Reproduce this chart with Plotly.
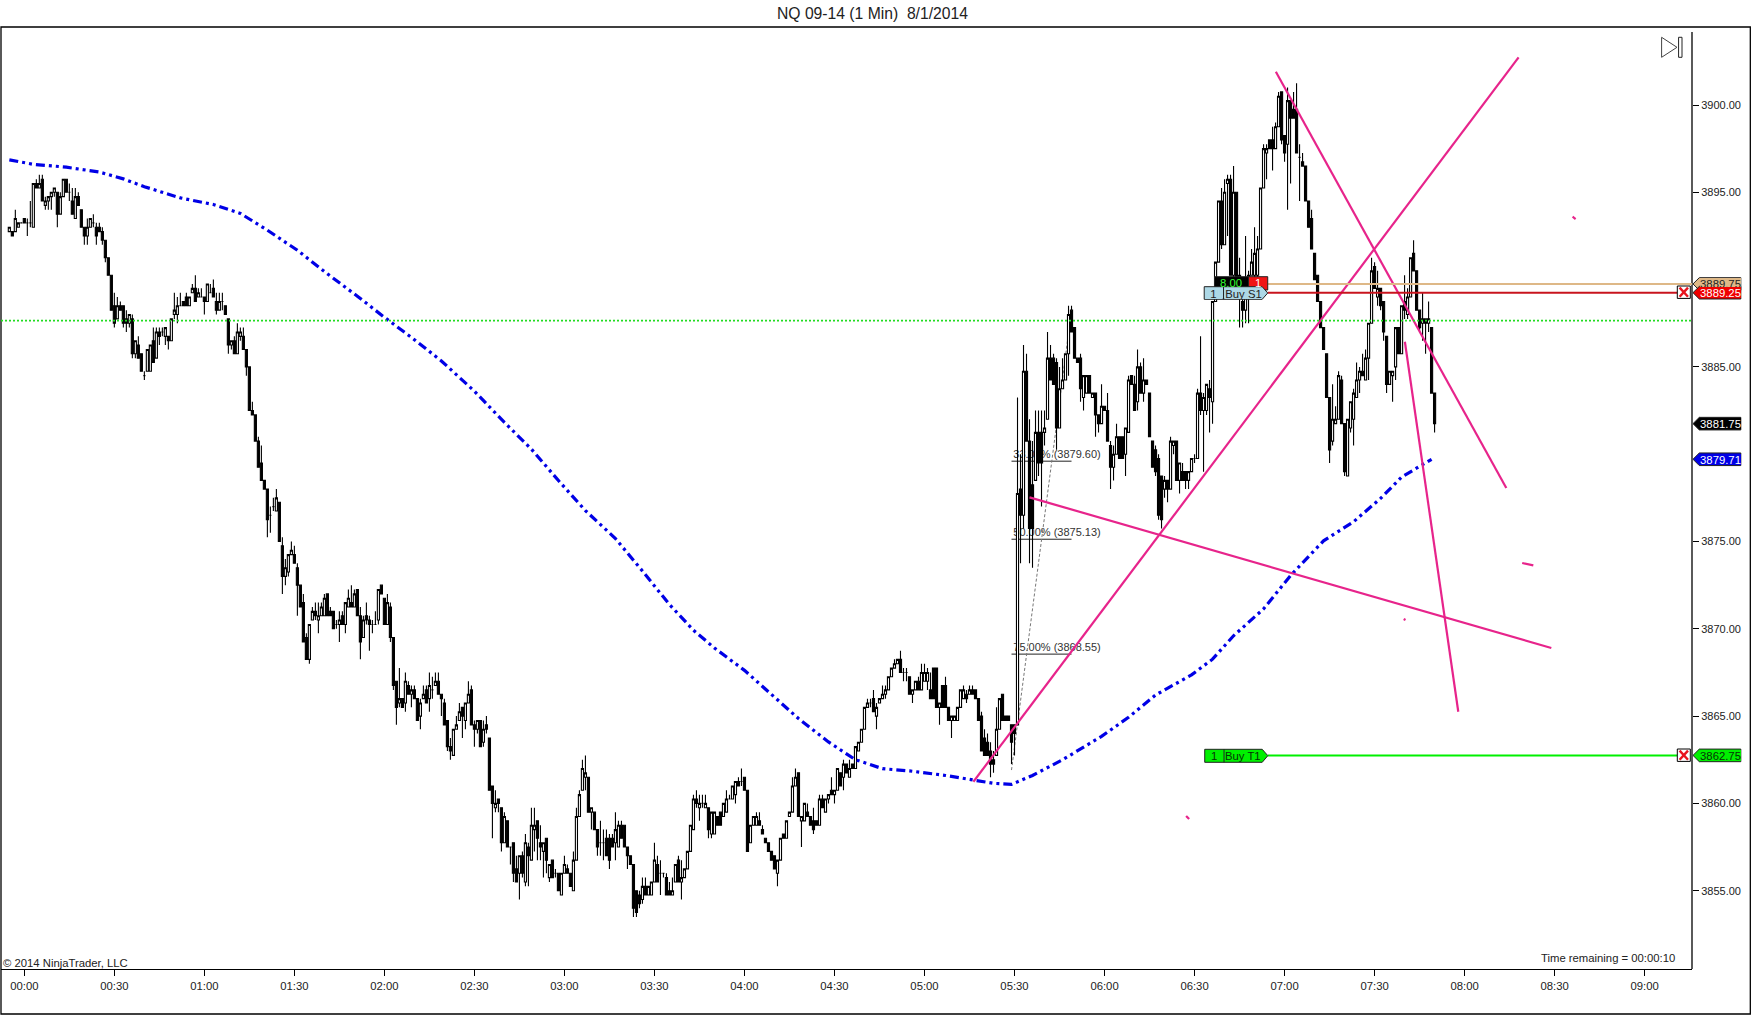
import pandas as pd
import plotly.graph_objects as go

title = "NQ 09-14 (1 Min)  8/1/2014"
first_bar = "2014-07-31 23:55"
base_price = 3800

# one minute bars, points above base_price
opens = [
    92.75, 92.75, 92.75, 93, 93.25, 93.5, 93.25, 93.25, 93, 95.5,
    95.25, 95.75, 94.25, 94.5, 94.75, 95, 95, 93.75, 94.75, 95.75,
    95, 94.5, 93.5, 94.75, 94, 93, 92.5, 93, 93.25, 93,
    93, 92.75, 92.25, 91.25, 90.25, 88.5, 87.75, 88.5, 88.5, 87.75,
    87.5, 87.75, 85.75, 86.25, 85.75, 84.5, 84.75, 84.75, 86.5, 85.5,
    87, 87, 86.75, 86.75, 86.5, 88, 88, 88.5, 88.75, 89,
    88.5, 89.25, 89.5, 89, 89, 89, 88.75, 89.25, 89.5, 88.75,
    88.25, 88.75, 88.5, 87.75, 86.25, 86.5, 85.75, 86.75, 86.75, 86,
    85, 82.5, 82.25, 80.75, 79.5, 78.5, 78, 76.5, 77, 76.75,
    77.25, 74.75, 73, 73.25, 74.25, 74.25, 73.5, 72.5, 71.5, 69.5,
    68.25, 70.5, 71, 70.5, 70.75, 70.75, 72, 71, 71, 70.25,
    70.25, 70.75, 70.25, 71.25, 71.5, 71.25, 72.25, 70.75, 69.5, 70.75,
    70.5, 70.25, 70.25, 70.5, 72.5, 71.75, 70.25, 71.25, 69.5, 67,
    65.75, 66, 65.75, 66.75, 66.25, 66.5, 66, 65, 66, 66.5,
    66, 66.5, 66.75, 67, 66.25, 65.75, 64.75, 63.25, 62.75, 64.25,
    64.75, 65.5, 64.75, 65.75, 66.5, 64.5, 64.25, 64.75, 63.5, 64.5,
    63.75, 61, 59.75, 60.25, 59.75, 57.75, 59, 57.5, 57.75, 56.25,
    56, 57, 55.5, 57.5, 56.75, 58.5, 59, 57.75, 57.25, 58,
    55.75, 56.75, 56, 56, 54.75, 56, 56.25, 56, 55, 56.75,
    59.25, 60.75, 61.5, 61.5, 59.5, 59.5, 58.5, 57.75, 57.75, 58,
    58, 58, 57.75, 57.5, 58.75, 58.75, 57.5, 57, 56.5, 55,
    54.75, 54.5, 55.25, 54.75, 54.75, 55.5, 56.5, 56, 56, 55.75,
    55, 54.75, 55.5, 56.75, 55.5, 55.75, 56.25, 57.25, 58.5, 60.25,
    59.75, 60, 59.75, 59.75, 58.25, 58.25, 59.25, 59.5, 59.25, 59.5,
    60.25, 60.25, 60.5, 61.25, 61.25, 61.5, 60.75, 57.75, 58.75, 58.75,
    59, 58.5, 58, 57.75, 57.25, 57, 56, 56.75, 58.25, 58,
    59.25, 59.5, 61, 61.75, 59, 59, 59.5, 59.25, 59, 59,
    58.75, 60.25, 59.5, 60.25, 60.75, 60.5, 60.75, 61.75, 61.5, 62.25,
    61.5, 62.25, 62, 63, 63.5, 64.25, 65.5, 65.75, 66, 65,
    65.75, 66, 66.25, 66.5, 67.25, 67.75, 68, 68.25, 67.5, 67.5,
    67.25, 66.25, 66.5, 67, 66.5, 67, 67, 66.5, 67.75, 67.75,
    65.5, 66.75, 66.75, 65.5, 64.75, 64.75, 64.75, 65.5, 66, 66.25,
    66.25, 66.5, 66.5, 66, 65, 63.75, 63.5, 63, 62.5, 62.75,
    64.25, 66.25, 65, 65, 64.5, 64.5, 64.5, 78, 76.5, 84.75,
    80.75, 78.25, 78.5, 81.25, 81.25, 81.25, 82, 85.5, 85.5, 85.25,
    81.5, 83.75, 84.25, 85.75, 88.25, 87.25, 85.5, 85.5, 83.25, 83.5,
    84.5, 83.25, 83.5, 82.25, 81.75, 82.75, 82.5, 80.5, 79.25, 80,
    81, 81, 80, 81.25, 84.5, 84, 83, 85, 83.5, 84.25,
    83.5, 80.75, 80.25, 79.75, 78.75, 78, 78.5, 78, 80.5, 80.75,
    78.5, 79, 79, 78.5, 79, 79.75, 79.75, 83.5, 82.5, 82.5,
    83.75, 83, 88.75, 91, 94.5, 92, 95.5, 95.75, 90.25, 95,
    90, 88.75, 88.25, 89.25, 90.25, 90.25, 90.25, 91.75, 95.25, 97.25,
    98, 98, 97.5, 98.75, 100.75, 98.25, 97.75, 100.25, 99.75, 99.75,
    97, 96.75, 96.5, 94.5, 93.5, 91.5, 90.25, 88.75, 87.25, 85.75,
    83.25, 80.75, 81.75, 82, 84.25, 81.75, 78.75, 81.5, 82, 83.25,
    84.25, 84.75, 84.25, 85.5, 87.5, 90.75, 89, 89.5, 88.75, 86.75,
    84, 84.5, 85, 87.25, 85.75, 88.75, 88, 89, 91.5, 90.5,
    88.25, 87.5, 87.75, 87.5, 87.25, 83.5,
]
highs = [
    93, 92.75, 94, 93.25, 93.25, 93.5, 93.5, 94.5, 95.5, 95.75,
    96, 96, 94.75, 94.75, 95, 95.25, 95, 95, 95.75, 95.75,
    95.5, 95.25, 95.25, 95, 94, 93, 93.5, 93.5, 93.75, 93.25,
    93.25, 93, 92.25, 91.25, 90.25, 89.25, 89, 88.75, 88.5, 88.25,
    88, 88, 86.5, 86.75, 85.75, 84.75, 86, 86.25, 87.25, 87.25,
    87.25, 87.25, 87.25, 86.75, 87.75, 89.25, 89, 89.25, 88.75, 89.25,
    89, 89.75, 90.25, 89.5, 89.5, 89, 89.75, 89.75, 90, 89.25,
    89.25, 89.25, 88.5, 87.75, 86.5, 86.75, 87.5, 87.25, 87.25, 86,
    85, 83, 82.25, 81, 80.5, 78.5, 78, 77, 77.5, 78,
    77.25, 75.25, 74, 74.25, 75, 74.75, 73.75, 72.5, 72, 69.75,
    70.25, 71.25, 71.5, 71.5, 71.5, 72, 72, 71.25, 71, 70.5,
    71, 71, 71.5, 72.25, 72.5, 72.25, 72.25, 71.25, 70.75, 71.5,
    70.75, 70.5, 71, 72.25, 72.5, 71.75, 72, 71.5, 69.5, 67,
    67.75, 66, 67.5, 67, 66.75, 66.75, 66, 66, 66.75, 66.75,
    67.5, 67.25, 67.5, 67.5, 66.25, 66, 64.75, 63.75, 64.25, 65,
    65.75, 65.5, 65.75, 67, 66.75, 64.75, 64.75, 64.75, 64.75, 65,
    63.75, 61, 60.75, 60.25, 59.75, 59.5, 59, 57.5, 57.75, 57,
    57, 57.25, 58.25, 57.75, 59.75, 59.75, 59, 58.75, 57.75, 58,
    56.5, 56.75, 56.25, 56, 56, 57, 56.5, 56, 57.25, 59.75,
    60.75, 62.5, 62.75, 61.5, 59.75, 59.5, 58.5, 59, 58.5, 58.5,
    58.25, 58.25, 59.5, 59, 59, 58.75, 57.5, 57, 56.5, 55,
    55, 55.75, 55.75, 55.25, 55.5, 57.75, 57, 56.75, 56, 56,
    55.5, 55.75, 56.5, 57, 56.75, 56.25, 57.25, 58.75, 60.5, 60.75,
    60.5, 60.5, 60.5, 59.75, 59.5, 59.5, 59.25, 59.5, 60, 60.75,
    60.5, 61, 61.25, 61.5, 62, 61.5, 60.75, 58.75, 59.25, 59.5,
    59.5, 58.75, 58, 57.75, 57.25, 57, 56.75, 58, 58.25, 59,
    59.5, 61.5, 62, 61.75, 59.25, 60, 60, 59.25, 59.75, 59,
    60.5, 60.5, 60.25, 60.5, 61.5, 60.75, 62, 61.75, 62.5, 62.25,
    62.5, 62.25, 63.25, 63.5, 64.25, 65.5, 66, 66, 66.5, 65.75,
    66, 66.75, 66.75, 67.25, 67.75, 68.25, 68.25, 68.75, 67.75, 67.75,
    67.25, 66.5, 67, 67.25, 68, 68, 67.75, 67.5, 67.75, 67.75,
    65.75, 66.75, 67.25, 65.5, 65, 65, 65.5, 66.5, 66.75, 66.5,
    66.75, 66.75, 66.5, 66, 65.25, 64.25, 64, 63.5, 63, 65.5,
    66, 66.25, 65, 65, 64.5, 64.5, 83.25, 80, 86.25, 85.75,
    82, 80.75, 82.5, 82.5, 82.5, 82.5, 87, 86.25, 85.75, 85.5,
    85, 85.5, 85.75, 88.5, 88.5, 87.25, 85.5, 85.75, 84.5, 84.5,
    84.5, 83.5, 83.5, 82.25, 84, 82.75, 83.5, 80.75, 80.5, 81.75,
    81, 81, 81.5, 84.5, 84.5, 84.5, 86, 85.25, 85.5, 84.25,
    83.5, 80.75, 80.5, 80, 78.75, 78.75, 78.5, 81, 80.75, 80.75,
    79.5, 79.5, 79, 79, 79.75, 80, 83.75, 86.75, 83.5, 84,
    84.25, 88.75, 91, 94.5, 95.25, 95.75, 96, 96, 96.5, 95,
    91.25, 89.5, 92.5, 90.5, 91.75, 93, 92.5, 95.25, 97.75, 97.75,
    98, 98.75, 99, 100.75, 100.75, 98.25, 101, 100.25, 100.75, 101.25,
    97.75, 97.25, 96.5, 94.5, 94, 91.5, 90.25, 88.75, 87.25, 85.75,
    83.25, 84, 82.75, 84.75, 84.5, 81.75, 82, 83, 83.75, 85.25,
    85, 85.75, 86, 87.5, 91.25, 91, 90.5, 89.5, 88.75, 86.75,
    84.75, 84.75, 87.25, 87.25, 88.5, 90.25, 89.5, 91.25, 92.25, 90.5,
    88.25, 89.25, 87.75, 88.75, 87.25, 83.5,
]
lows = [
    92.75, 92.5, 92.75, 93, 93.25, 93.25, 92.5, 93, 93, 95.25,
    95.25, 94.5, 94, 94, 94, 94.75, 93, 93.75, 94.75, 95,
    94.5, 93.75, 93.5, 94.25, 93, 92, 92, 93, 93, 92,
    92.75, 92, 91, 90.25, 88.25, 87.25, 87.75, 88.25, 87.25, 87,
    87.25, 85.5, 85.5, 85.5, 84.75, 84.25, 84.75, 84.75, 85.25, 85.5,
    86.25, 86.75, 86.25, 86, 86.5, 87.75, 87.5, 88.5, 88.5, 88.5,
    88.5, 89.25, 88.75, 89, 89, 88, 88.75, 89.25, 89, 88,
    88.25, 88.25, 88, 85.75, 86, 85.75, 85.75, 86.5, 86, 84.5,
    82.5, 82.25, 80.75, 79.25, 78.5, 78, 75.25, 75.5, 76.75, 76.75,
    75, 72, 72.5, 73, 74.25, 73.75, 70.75, 71.25, 69.25, 68.25,
    68, 70.5, 70.5, 69.75, 70.75, 70.75, 70.75, 70.75, 70, 70,
    69.25, 70.25, 69.75, 71.25, 71.25, 71.25, 70.75, 68.25, 69.5, 70.25,
    68.75, 69.75, 70.25, 70.25, 72, 70.25, 70.25, 69.25, 66.5, 64.5,
    65.5, 65.5, 65.25, 66.25, 65.5, 66, 64.75, 64.25, 66, 65.75,
    65.25, 66, 66.75, 66.25, 65, 64.5, 63, 62.5, 62.75, 64.25,
    64.75, 63.75, 64.25, 65.75, 64.5, 63.25, 64, 63.25, 63.25, 64,
    60.75, 58, 59.5, 59.5, 57.25, 57.75, 57.5, 56.5, 55.5, 55.5,
    54.5, 55.75, 55.25, 55.25, 56.75, 57.25, 56.75, 56.75, 55.75, 56,
    55.5, 55.75, 55.75, 55, 54.75, 56, 56, 55.25, 55, 56.75,
    59.25, 60.75, 60.75, 59.5, 58.5, 58.5, 57, 57, 56.75, 57,
    56.25, 57.5, 56.75, 57.5, 58, 57.5, 56.25, 56.5, 53.5, 53.5,
    54, 54.25, 54.75, 54.75, 54.75, 55.5, 55.5, 54.75, 55.75, 54.75,
    54.75, 54.75, 55.5, 55.5, 54.5, 55.75, 56.25, 57.25, 58.5, 59.75,
    59, 59.75, 59.75, 58, 58, 58.25, 58.75, 58.75, 59.25, 59.5,
    60.25, 60.25, 60, 61, 61, 60.75, 57.25, 57.75, 58.75, 58.75,
    58.75, 58.25, 57.75, 57.25, 56.75, 56.25, 55.25, 56.75, 58, 58,
    59.25, 59.5, 61, 59.25, 57.5, 59, 59.25, 58.75, 58.25, 58.75,
    58.75, 59.75, 59.5, 60, 60.5, 60, 60.75, 61, 60.75, 61.75,
    61.5, 62, 62, 63, 63.5, 64.25, 65.5, 65.5, 65.25, 64.25,
    65.75, 66, 66, 66.5, 67.25, 67.75, 68, 67.5, 67, 67,
    66.25, 65.75, 66.5, 66.5, 66.5, 67, 66.5, 66, 66, 65.5,
    64.5, 65.5, 65.5, 64.75, 63.75, 64.75, 64.75, 65.5, 66, 65.75,
    66.25, 66.25, 66, 64.75, 63, 62.75, 62.75, 61.5, 61.75, 62.75,
    64.25, 64.75, 64.75, 64.75, 62.25, 62.75, 64.5, 73.75, 75.75, 80.75,
    73.75, 73.5, 78.5, 78.75, 77, 80.5, 82, 84.25, 84, 80.25,
    81.5, 83.75, 84.25, 84.5, 87, 85.5, 85.25, 83, 82.5, 83.5,
    83.5, 83.25, 81, 81.25, 81.75, 82.5, 80.75, 78, 78.5, 80,
    79.75, 79.75, 78.75, 81.25, 84, 82.5, 82.5, 83.5, 83, 84,
    81, 79.25, 78.75, 76.25, 75.75, 77.5, 77.25, 78, 80, 78.5,
    77.75, 78.5, 78, 78, 79, 79.5, 79.75, 82.25, 79, 82.25,
    81.25, 81.75, 88.75, 91, 91.75, 92, 92.5, 90.25, 90, 89,
    87.25, 87.25, 87.5, 87.5, 90.25, 90, 90, 91.75, 95.25, 95.75,
    97.5, 96.25, 97.5, 98.75, 97.75, 96.75, 94, 95.5, 99.25, 97.25,
    94.5, 96.5, 94.5, 93, 91.75, 90, 88.75, 87.25, 86, 83.25,
    79.5, 80.5, 81.75, 82, 81.75, 78.75, 78.75, 81.25, 80.5, 83.25,
    83.5, 84.5, 84.25, 84.25, 87.5, 89.5, 88.5, 88.25, 86.5, 83.5,
    84, 83, 84.25, 85.75, 85.75, 87.75, 87.75, 89, 90.5, 88.25,
    87, 86.5, 85.75, 87, 83.5, 81.25,
]
closes = [
    93, 92.5, 93.5, 93.25, 93.25, 93.25, 93.25, 93.25, 95.5, 95.25,
    95.5, 94.5, 94.5, 94.75, 95, 95.25, 93.75, 94.75, 95.75, 95,
    95, 93.75, 94.75, 94.25, 93, 92.5, 93, 93.5, 93.25, 92.5,
    92.75, 92.25, 91.25, 90.25, 88.25, 87.5, 88.5, 88.25, 87.5, 87.5,
    88, 85.75, 86.5, 85.5, 84.75, 84.5, 86, 86.25, 85.25, 87,
    86.75, 87, 87.25, 86.5, 87.75, 88.25, 88.5, 88.5, 88.5, 88.5,
    89, 89.5, 88.75, 89.25, 89, 88.75, 89.75, 89.25, 89, 88.25,
    88.75, 88.75, 88, 86.25, 86.5, 85.75, 87, 87, 86, 85,
    82.5, 82.25, 80.75, 79.25, 78.5, 78, 76.25, 76.5, 77, 77.5,
    75, 73, 73.5, 74.25, 74.5, 73.75, 72.5, 71.25, 69.25, 68.25,
    70.25, 71, 70.75, 70.75, 71.25, 71.75, 70.75, 70.75, 70, 70.25,
    70.5, 70.25, 71.5, 71.75, 71.25, 72, 70.75, 69.25, 70.5, 70.5,
    70.25, 70.25, 70.25, 72.25, 72, 70.25, 71.5, 69.5, 66.75, 65.5,
    66, 65.5, 67, 66.25, 66.5, 66, 64.75, 65.75, 66.25, 65.75,
    66.75, 66.5, 67, 66.25, 66, 64.5, 63.25, 63, 64.25, 64.5,
    65.25, 65, 65.75, 66.25, 64.5, 64.25, 64.75, 63.25, 64.25, 64.25,
    60.75, 60, 60, 60, 57.75, 59.25, 57.5, 57.5, 56, 55.5,
    57, 56, 57.75, 57, 58.75, 58.75, 58, 57.5, 57.75, 56.75,
    56.5, 55.75, 56, 55, 56, 56.5, 56, 55.25, 56.75, 59.25,
    60.5, 62, 61.75, 59.5, 59.75, 58.5, 57.5, 57.75, 57.75, 57,
    56.75, 57.5, 58.5, 58.75, 58, 57.5, 57, 56.5, 54, 53.75,
    54.25, 55.25, 54.75, 55.25, 55.5, 56.75, 55.5, 56, 56, 54.75,
    54.75, 55, 56.5, 55.5, 55.75, 56.25, 57.25, 58.75, 60.25, 60,
    60, 60, 60, 58.5, 59.5, 59.5, 58.75, 58.75, 60, 60.25,
    60.25, 61, 61.25, 61, 61.25, 60.75, 57.25, 58.75, 59.25, 59.25,
    58.75, 58.25, 57.75, 57.25, 56.75, 56.25, 56.75, 58, 58, 59,
    59.5, 61, 61.5, 59.25, 59.25, 60, 59.25, 58.75, 58.5, 58.75,
    60.25, 59.75, 60.25, 60.5, 60.5, 60.75, 62, 61, 62.25, 61.75,
    62, 62, 63.25, 63.5, 64.25, 65.5, 65.75, 65.75, 65.25, 65.5,
    66, 66.25, 66.5, 67.25, 67.75, 68, 68.25, 67.5, 67.5, 67.5,
    66.25, 66.5, 67, 66.5, 67.5, 67.5, 67.5, 66, 66, 65.5,
    65.75, 65.5, 65.5, 64.75, 65, 65, 65.5, 66.5, 66.5, 66,
    66.5, 66.25, 66, 64.75, 63, 62.75, 62.75, 62.25, 62.25, 64.25,
    66, 64.75, 64.75, 64.75, 63.5, 64, 77.75, 76.5, 84.75, 80.75,
    75.75, 75.75, 81.25, 79.5, 79.5, 81.5, 85.5, 84.25, 84, 81.5,
    83.75, 84.25, 85.75, 88, 87, 85.5, 85.25, 83.75, 84.5, 84.5,
    83.5, 83.5, 82.25, 81.75, 82.75, 82.5, 80.75, 79.25, 80, 81,
    79.75, 79.75, 81.5, 84.25, 84, 82.5, 85, 83.5, 84.25, 84,
    81, 79.25, 79, 76.5, 76.25, 78.5, 78, 80.75, 80.75, 78.5,
    79.5, 78.5, 78.5, 79, 79.75, 79.75, 83.5, 82.5, 83.25, 84,
    83.25, 88.75, 91, 94.5, 92, 95, 95.75, 90.25, 95, 90,
    90.25, 88.25, 89.25, 90.25, 91, 91.5, 91.75, 95.25, 97.5, 97.5,
    97.5, 97.5, 98.75, 100.5, 98, 97.25, 100.25, 99.25, 99.25, 97.25,
    97, 96.5, 94.5, 93, 91.75, 90, 88.75, 87.25, 86, 83.25,
    80.25, 82, 82, 84.5, 81.75, 79, 82, 83, 83.5, 84.25,
    84.75, 84.5, 85.5, 87.5, 90.5, 89.5, 89.5, 88.5, 87, 84,
    84.75, 84.75, 87.25, 85.75, 88.5, 88.25, 89, 91.25, 90.5, 88.25,
    87.25, 87.75, 87.5, 87.75, 83.5, 81.75,
]

# moving average, minutes after midnight and price
sma_minutes = [-5, 3, 14, 25, 33, 40, 52, 63, 72, 81, 91, 100, 111, 120, 130, 139, 150, 160,
               169, 178, 187, 197, 206, 215, 223, 230, 240, 249, 258, 268, 277, 286, 295,
               307, 316, 323, 329, 336, 346, 359, 368, 377, 389, 396, 403, 413, 422, 433,
               443, 452, 459, 469]
sma_prices = [3896.86, 3896.6, 3896.44, 3896.16, 3895.77, 3895.32, 3894.68, 3894.3, 3893.79,
              3892.83, 3891.68, 3890.46, 3889.05, 3887.84, 3886.56, 3885.34, 3883.61, 3881.82,
              3880.29, 3878.49, 3876.77, 3875.17, 3873.31, 3871.39, 3869.92, 3868.9, 3867.62,
              3866.21, 3864.86, 3863.52, 3862.5, 3861.99, 3861.86, 3861.6, 3861.35, 3861.15,
              3861.09, 3861.6, 3862.5, 3863.84, 3864.93, 3866.21, 3867.36, 3868.26, 3869.6,
              3871.14, 3873.05, 3875.04, 3876.13, 3877.47, 3878.69, 3879.71]

# drawn trend lines: start minute, end minute, start price, end price
trend_start_min = [316.3, 417.1, 335, 460.1, 387.2, 516, 499.2, 459.7]
trend_end_min = [498, 493.9, 508.9, 477.9, 388.2, 517, 502.9, 460.3]
trend_start_px = [3861.24, 3901.9, 3877.53, 3886.44, 3859.28, 3893.6, 3873.77, 3870.56]
trend_end_px = [3902.73, 3878.06, 3868.9, 3865.25, 3859.1, 3893.47, 3873.63, 3870.5]

fib_labels = ["33.00%", "50.00%", "75.00%"]
fib_prices = [3879.60, 3875.13, 3868.55]
fib_trend_min = [329, 349]
fib_trend_px = [3861.91, 3888.26]

ma_level = 3887.65
entry_level = 3889.75
stop_level = 3889.25
target_level = 3862.75
last_price = 3881.75
last_sma = 3879.71
y_ticks = [3855, 3860, 3865, 3870, 3875, 3885, 3895, 3900]

FONT = "Liberation Sans"
PINK = "#E7248B"
PLOT_L, PLOT_R, PLOT_T, PLOT_B = 1, 1691.7, 27, 969


def at_minute(m):
    return pd.Timestamp("2014-08-01") + pd.Timedelta(minutes=m)


def px(x):
    return (x - PLOT_L) / (PLOT_R - PLOT_L)


def py(y):
    return (PLOT_B - y) / (PLOT_B - PLOT_T)


def price_y(price):
    return 105 + (3900 - price) * 17.46


times = pd.date_range(first_bar, periods=len(closes), freq="min")
x_range = [at_minute((PLOT_L - 24.33) / 3), at_minute((PLOT_R - 24.33) / 3)]
y_range = [3900 - (PLOT_B - 105) / 17.46, 3900 - (PLOT_T - 105) / 17.46]

fig = go.Figure()

# fib drawing stays on the base axes so the bars cover it
for label_text, level in zip(fib_labels, fib_prices):
    fig.add_trace(go.Scatter(
        x=[at_minute(fib_trend_min[0]), at_minute(fib_trend_min[1])], y=[level, level],
        mode="lines", line=dict(color="#222222", width=1), hoverinfo="skip",
    ))
    fig.add_trace(go.Scatter(
        x=[at_minute(fib_trend_min[0] + 0.6)], y=[level], mode="text",
        text=[f"{label_text} ({level:.2f})"], textposition="top right",
        textfont=dict(family=FONT, size=11, color="#333333"), hoverinfo="skip",
    ))
fig.add_trace(go.Scatter(
    x=[at_minute(m) for m in fib_trend_min], y=fib_trend_px, mode="lines",
    line=dict(color="#777777", width=1, dash="3px,2px"), hoverinfo="skip",
))

fig.add_trace(go.Candlestick(
    x=times,
    open=[base_price + v for v in opens],
    high=[base_price + v for v in highs],
    low=[base_price + v for v in lows],
    close=[base_price + v for v in closes],
    increasing=dict(line=dict(color="black", width=1.1), fillcolor="white"),
    decreasing=dict(line=dict(color="black", width=1.1), fillcolor="black"),
    whiskerwidth=0,
    xaxis="x2", yaxis="y2", hoverinfo="skip",
))

fig.add_trace(go.Scatter(
    x=[at_minute(m) for m in sma_minutes], y=sma_prices, mode="lines",
    line=dict(color="#0000E6", width=3.2, dash="9px,4px,3px,4px,3px,4px"),
    xaxis="x2", yaxis="y2", hoverinfo="skip",
))

for m0, m1, p0, p1 in zip(trend_start_min, trend_end_min, trend_start_px, trend_end_px):
    fig.add_trace(go.Scatter(
        x=[at_minute(m0), at_minute(m1)], y=[p0, p1], mode="lines",
        line=dict(color=PINK, width=2.2), xaxis="x2", yaxis="y2", hoverinfo="skip",
    ))

shapes = []
annotations = []


def line_px(x0, y0, x1, y1, color="black", width=1):
    shapes.append(dict(type="line", xref="paper", yref="paper", x0=px(x0), x1=px(x1), y0=py(y0), y1=py(y1),
                       line=dict(color=color, width=width)))


def poly(points, fill, border="#222222", width=1):
    path = "M " + " L ".join(f"{px(x):.5f} {py(y):.5f}" for x, y in points) + " Z"
    shapes.append(dict(type="path", xref="paper", yref="paper", path=path, fillcolor=fill,
                       line=dict(color=border, width=width)))


def label(x, y, text, color="#222222", size=11.3, bg=None, w=None, h=None, anchor="center"):
    annotations.append(dict(
        xref="paper", yref="paper", x=px(x), y=py(y), text=text, showarrow=False,
        xanchor=anchor, yanchor="middle", align="center", borderpad=0, borderwidth=0,
        font=dict(family=FONT, size=size, color=color), bgcolor=bg, width=w, height=h,
    ))


# outer frame and price axis line
shapes.append(dict(type="rect", xref="paper", yref="paper", x0=px(1), x1=px(1750), y0=py(27), y1=py(1014),
                   line=dict(color="black", width=1.3), fillcolor="rgba(0,0,0,0)"))
line_px(PLOT_R, 32, PLOT_R, 969, width=1.3)

# order lines
shapes.append(dict(type="line", xref="paper", yref="y", x0=px(1), x1=px(PLOT_R), y0=ma_level, y1=ma_level,
                   line=dict(color="#22DD22", width=1.7, dash="2px,2px")))
shapes.append(dict(type="line", xref="paper", yref="y", x0=px(1267.5), x1=px(PLOT_R), y0=entry_level, y1=entry_level,
                   line=dict(color="#DEB887", width=2)))
shapes.append(dict(type="line", xref="paper", yref="y", x0=px(1267.5), x1=px(1677), y0=stop_level, y1=stop_level,
                   line=dict(color="#C8141E", width=2)))
shapes.append(dict(type="line", xref="paper", yref="y", x0=px(1267.5), x1=px(1677), y0=target_level, y1=target_level,
                   line=dict(color="#00F000", width=2)))

# chart trader flags
poly([(1214.3, 276.7), (1248.3, 276.7), (1248.3, 290), (1214.3, 290)], "black")
poly([(1248.3, 276.7), (1267.5, 276.7), (1267.5, 290), (1248.3, 290)], "#F01414")
label(1231, 282.7, "8.00", color="#33FF33")
label(1258, 282.7, "1", color="white")
poly([(1204, 286.7), (1262, 286.7), (1267.5, 293), (1262, 299.3), (1204, 299.3)], "#ADD8E6")
line_px(1223.3, 286.7, 1223.3, 299.3, color="#222222")
label(1213.6, 293, "1", bg="#ADD8E6", w=17, h=11)
label(1243, 293, "Buy S1", bg="#ADD8E6", w=37, h=11)
poly([(1204.5, 749.3), (1262, 749.3), (1267.6, 755.7), (1262, 762.3), (1204.5, 762.3)], "#00F000")
line_px(1223.8, 749.3, 1223.8, 762.3, color="#222222")
label(1213.7, 755.8, "1", color="#063306")
label(1243, 755.8, "Buy T1", color="#063306")

# price flags on the axis
flags = [(entry_level, "#DEB887", "#222222"), (stop_level, "#F00000", "white"), (last_price, "black", "white"),
         (last_sma, "#0000E6", "white"), (target_level, "#00F000", "#063306")]
for level, fill, text_color in flags:
    yc = price_y(level)
    poly([(1692.7, yc), (1699, yc - 6.3), (1740.5, yc - 6.3), (1740.5, yc + 6.3), (1699, yc + 6.3)], fill)
    label(1720, yc, f"{level:.2f}", color=text_color, bg=fill, w=41, h=11)

# close boxes on the stop and target lines
for yc in [292.2, 755.2]:
    shapes.append(dict(type="rect", xref="paper", yref="paper", x0=px(1677), x1=px(1690), y0=py(yc - 6.2), y1=py(yc + 6.2),
                       fillcolor="white", line=dict(color="black", width=1)))
    line_px(1679.3, yc - 4.6, 1687.7, yc + 4.6, color="#E8141E", width=2.4)
    line_px(1679.3, yc + 4.6, 1687.7, yc - 4.6, color="#E8141E", width=2.4)

# replay icon
poly([(1661.3, 37.3), (1676.7, 47.3), (1661.3, 57.3)], "white", border="#444444")
poly([(1678.3, 37.3), (1681.7, 37.3), (1681.7, 57.3), (1678.3, 57.3)], "white", border="#222222")

label(872, 13.4, title, size=15.7)
label(2.7, 963, "© 2014 NinjaTrader, LLC", anchor="left")
label(1675, 958, "Time remaining = 00:00:10", anchor="right")

fig.update_layout(
    width=1752, height=1015, autosize=False,
    margin=dict(l=PLOT_L, r=1752 - PLOT_R, t=PLOT_T, b=1015 - PLOT_B, pad=0),
    paper_bgcolor="white", plot_bgcolor="white", showlegend=False, boxgap=0.0,
    font=dict(family=FONT, size=11, color="#222222"),
    shapes=shapes, annotations=annotations,
    xaxis=dict(
        type="date", range=x_range, tick0="2014-08-01 00:00", dtick=1800000, tickformat="%H:%M",
        ticks="outside", ticklen=6, tickcolor="black", tickwidth=1, showgrid=False, zeroline=False,
        showline=True, linecolor="black", linewidth=1.3, rangeslider=dict(visible=False),
        tickfont=dict(family=FONT, size=11.3, color="#222222"),
    ),
    yaxis=dict(
        range=y_range, side="right", tickvals=y_ticks, tickformat=".2f", ticks="outside", ticklen=6,
        tickcolor="black", tickwidth=1, showgrid=False, zeroline=False, showline=False,
        tickfont=dict(family=FONT, size=11, color="#222222"),
    ),
    xaxis2=dict(type="date", range=x_range, overlaying="x", visible=False, rangeslider=dict(visible=False)),
    yaxis2=dict(range=y_range, overlaying="y", visible=False),
)

fig.write_html("out.html", config={"displayModeBar": False},
               post_script="document.body.style.margin='0';")
